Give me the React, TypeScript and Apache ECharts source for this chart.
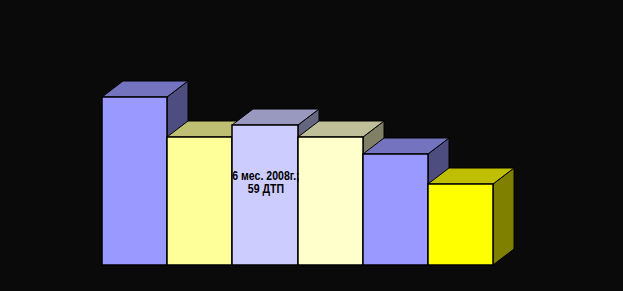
import React, { useEffect, useRef } from "react";
import * as echarts from "echarts";

const categories = ["1", "2", "3", "4", "5", "6"];
const values = [71, 54, 59, 54, 47, 34];
const labels = ["", "", "6 мес. 2008г.;\n59 ДТП", "", "", ""];
const frontColors = ["#9999ff", "#ffff99", "#ccccff", "#ffffcc", "#9999ff", "#ffff00"];
const topColors = ["#7373bf", "#bfbf73", "#9999bf", "#bfbf99", "#7373bf", "#bfbf00"];
const sideColors = ["#4d4d80", "#80804d", "#666680", "#808066", "#4d4d80", "#808000"];

const DX = 21;
const DY = 16;

export default function App() {
  const ref = useRef<HTMLDivElement>(null);
  useEffect(() => {
    document.body.style.margin = "0";
    const chart = echarts.init(ref.current!, null, { renderer: "svg" });
    const data = values.map((v, i) => [i, v]);
    chart.setOption({
      animation: false,
      backgroundColor: "#0a0a0a",
      grid: { left: 102, right: 130, top: 28, bottom: 26 },
      xAxis: { type: "category", data: categories, show: false },
      yAxis: { type: "value", min: 0, max: 100, show: false },
      series: [
        {
          type: "custom",
          data,
          encode: { x: 0, y: 1 },
          renderItem: (params: any, api: any) => {
            const i = api.value(0);
            const v = api.value(1);
            const top = api.coord([i, v]);
            const base = api.coord([i, 0]);
            const w = api.size([1, 0])[0];
            const x0 = Math.round(top[0] - w / 2);
            const x1 = Math.round(top[0] + w / 2);
            const yt = Math.round(top[1]);
            const yb = Math.round(base[1]);
            return {
              type: "group",
              children: [
                {
                  type: "polygon",
                  shape: { points: [[x1, yt], [x1 + DX, yt - DY], [x1 + DX, yb - DY], [x1, yb]] },
                  style: { fill: sideColors[i], stroke: "#000", lineWidth: 1 },
                },
                {
                  type: "polygon",
                  shape: { points: [[x0, yt], [x0 + DX, yt - DY], [x1 + DX, yt - DY], [x1, yt]] },
                  style: { fill: topColors[i], stroke: "#000", lineWidth: 1 },
                },
                {
                  type: "rect",
                  shape: { x: x0, y: yt, width: x1 - x0, height: yb - yt },
                  style: { fill: frontColors[i], stroke: "#000", lineWidth: 1.5 },
                },
              ],
            };
          },
        },
        {
          type: "custom",
          data,
          encode: { x: 0, y: 1 },
          z: 5,
          renderItem: (params: any, api: any) => {
            const i = api.value(0);
            const v = api.value(1);
            if (!labels[i]) return { type: "group", children: [] };
            const top = api.coord([i, v]);
            const base = api.coord([i, 0]);
            return {
              type: "text",
              x: top[0] + 1,
              y: top[1] + (base[1] - top[1]) * 0.41,
              scaleX: 0.88,
              style: {
                text: labels[i],
                fill: "#000",
                font: "bold 12px 'Liberation Sans', Arial, sans-serif",
                align: "center",
                verticalAlign: "middle",
                lineHeight: 13,
              },
            };
          },
        },
      ],
    });
    return () => chart.dispose();
  }, []);
  return <div ref={ref} style={{ width: 623, height: 291 }} />;
}
